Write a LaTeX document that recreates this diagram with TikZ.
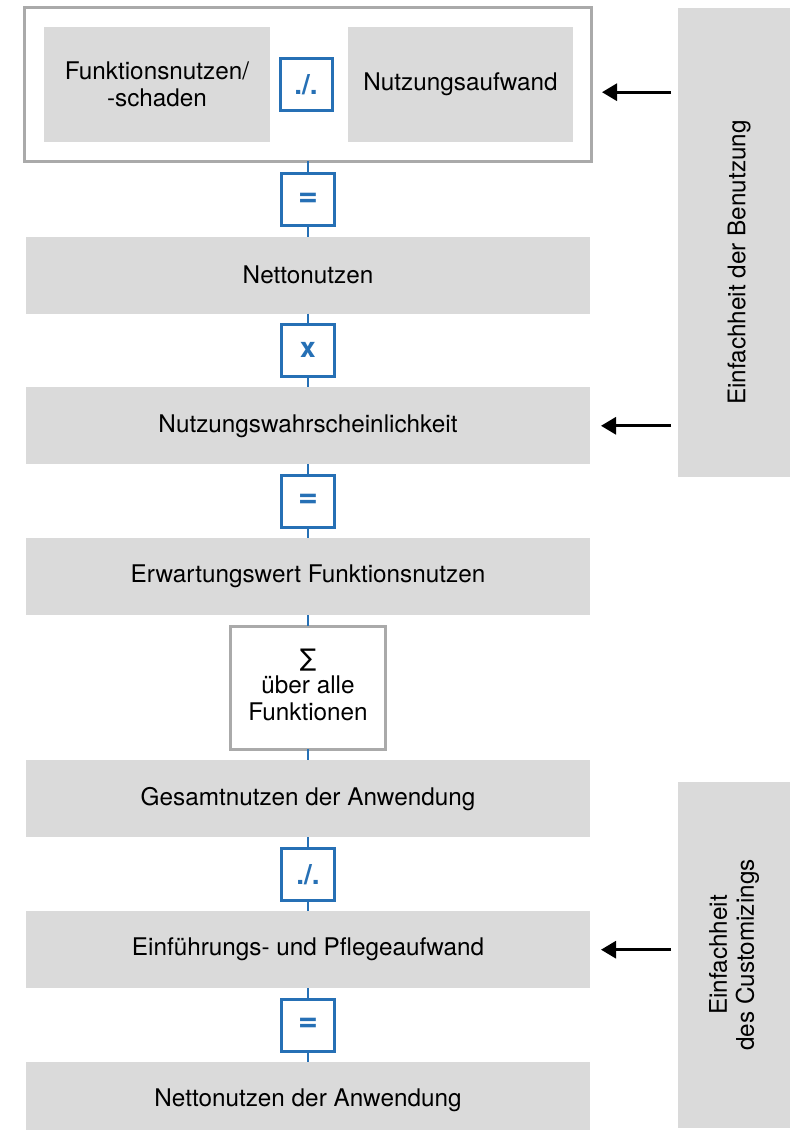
\documentclass[tikz,border=0pt]{standalone}
\usepackage{fontspec}
\setmainfont{TeX Gyre Heros}
\newfontfamily\symfont{DejaVu Sans}
\usetikzlibrary{matrix}
\usetikzlibrary{positioning}
\usetikzlibrary{arrows.meta}
\definecolor{opblue}{RGB}{38,112,181}
\definecolor{barfill}{RGB}{218,218,218}
\definecolor{framegray}{RGB}{170,170,170}
\newcommand{\sumlines}{\begin{tabular}{@{}c@{}}{\symfont ∑}\\über alle\\Funktionen\end{tabular}}
\newcommand{\eqsign}{{\fontsize{34}{34}\selectfont =}}

\begin{document}
\begin{tikzpicture}[
    x = 1pt, y = 1pt,
    font = \fontsize{24.3}{27}\selectfont,
    bar/.style = {fill=barfill, outer sep=0pt, minimum width=564pt, minimum height=77pt},
    opbox/.style = {draw=opblue, line width=3pt, fill=white, text=opblue, outer sep=0pt,
      inner sep=0pt, font=\fontsize{28}{30}\selectfont\bfseries, minimum size=52pt},
    outerbox/.style = {draw=framegray, line width=3pt, fill=white, outer sep=0pt,
      minimum width=566pt, minimum height=154pt},
    sumbox/.style = {draw=framegray, line width=3.5pt, fill=white, outer sep=0pt,
      minimum width=155pt, minimum height=123pt},
    sidebox/.style = {fill=barfill, rotate=90, outer sep=0pt, minimum height=112pt, align=center},
  ]
  \useasboundingbox (0,0) rectangle (794,-1130);

  \matrix (m) [
    matrix of nodes, row sep = 9.4pt,
    anchor = north, inner sep = 0pt,
    nodes = {outer sep = 0pt}
  ] at (308,-5.5) {
    |[outerbox]| {} \\
    |[opbox]| \eqsign \\
    |[bar]| Nettonutzen \\
    |[opbox]| x \\
    |[bar]| Nutzungswahrscheinlichkeit \\
    |[opbox]| \eqsign \\
    |[bar]| Erwartungswert Funktionsnutzen \\
    |[sumbox]| \sumlines \\
    |[bar]| Gesamtnutzen der Anwendung \\
    |[opbox]| ./. \\
    |[bar]| Einführungs- und Pflegeaufwand \\
    |[opbox]| \eqsign \\
    |[bar]| Nettonutzen der Anwendung \\
  };

  \node[opbox] (div) at ([xshift=-2pt]m-1-1.center) {./.};
  \node[bar, minimum width=226pt, minimum height=115pt, align=center, left=10pt of div] (fn) {Funktionsnutzen/\\-schaden};
  \node[bar, minimum width=225pt, minimum height=115pt, right=16pt of div] (na) {Nutzungsaufwand};

  \begin{scope}[opblue, line width=2.5pt]
    \draw (m-1-1) -- (m-2-1);
    \draw (m-2-1) -- (m-3-1);
    \draw (m-3-1) -- (m-4-1);
    \draw (m-4-1) -- (m-5-1);
    \draw (m-5-1) -- (m-6-1);
    \draw (m-6-1) -- (m-7-1);
    \draw (m-7-1) -- (m-8-1);
    \draw (m-8-1) -- (m-9-1);
    \draw (m-9-1) -- (m-10-1);
    \draw (m-10-1) -- (m-11-1);
    \draw (m-11-1) -- (m-12-1);
    \draw (m-12-1) -- (m-13-1);
  \end{scope}

  \node[sidebox, minimum width=469pt] (ben) at (734,-242.5) {};
  \node[rotate=90] (bentext) at ([xshift=5pt, yshift=-20pt]ben.center) {Einfachheit der Benutzung};
  \node[sidebox, minimum width=346pt] (cust) at (734,-955) {Einfachheit\\des Customizings};

  \coordinate (aimtop) at ([yshift=-8pt]m-1-1.east);
  \begin{scope}[line width=3pt, -{Triangle[length=15pt, width=17pt]}, shorten <= 7pt, shorten >= 11pt]
    \draw (aimtop -| ben.north) -- (aimtop);
    \draw (m-5-1.east -| ben.north) -- (m-5-1.east);
    \draw (m-11-1.east -| cust.north) -- (m-11-1.east);
  \end{scope}
\end{tikzpicture}
\end{document}
